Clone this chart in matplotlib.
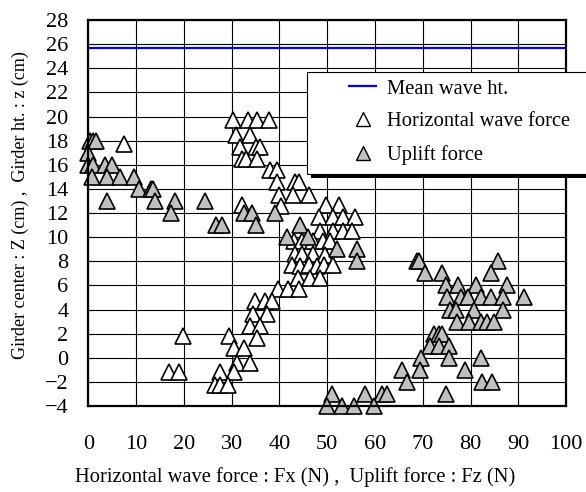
import matplotlib
matplotlib.use("Agg")
import matplotlib.pyplot as plt
from matplotlib.patches import Rectangle
from matplotlib.lines import Line2D

plt.rcParams['font.family'] = ['Liberation Serif', 'DejaVu Serif']

# Horizontal wave force (white triangles): Fx (N), z (cm)
fx_x = [30.2, 33.5, 35.3, 37.9,
        30.8, 33.9,
        31.8, 35.0, 36.0,
        32.2, 33.0, 35.3,
        38.1, 39.5,
        39.5, 43.3, 44.1,
        39.8, 42.9, 46.1,
        32.2, 40.3, 49.8, 52.4,
        48.2, 51.3, 53.4, 55.9,
        48.5, 51.3, 53.4, 55.2,
        43.0, 44.7, 47.1, 49.2, 50.6,
        43.2, 44.7, 47.1, 49.6,
        42.7, 44.3, 46.1, 47.8, 49.4, 51.2,
        43.8, 46.3, 48.5,
        39.6, 41.8, 44.0,
        34.9, 37.0, 38.4,
        34.5, 37.4,
        33.9, 36.0,
        35.3, 29.5, 19.8,
        30.4, 32.5,
        31.1, 33.9,
        27.6, 30.4, 16.8, 18.9,
        26.5, 27.6, 29.3,
        7.5]
fx_z = [19.7, 19.7, 19.7, 19.7,
        18.5, 18.5,
        17.5, 17.5, 17.5,
        16.5, 16.5, 16.5,
        15.6, 15.6,
        14.6, 14.6, 14.6,
        13.5, 13.5, 13.5,
        12.7, 12.6, 12.7, 12.7,
        11.65, 11.65, 11.65, 11.7,
        10.55, 10.55, 10.55, 10.55,
        9.7, 9.7, 9.7, 9.67, 9.67,
        8.6, 8.6, 8.6, 8.5,
        7.65, 7.6, 7.65, 7.6, 7.65, 7.7,
        6.6, 6.6, 6.6,
        5.7, 5.7, 5.7,
        4.7, 4.7, 4.7,
        3.6, 3.6,
        2.65, 2.65,
        1.6, 1.8, 1.8,
        0.8, 0.8,
        -0.4, -0.4,
        -1.2, -1.2, -1.2, -1.2,
        -2.25, -2.25, -2.25,
        17.7]

# Uplift force (grey triangles): Fz (N), z (cm)
fz_x = [0.3, 1.0, 1.5,
        0.0,
        0.0, 1.0, 3.5, 5.0,
        0.7, 3.9, 6.6, 9.6,
        10.5, 13.0, 13.6,
        3.9, 14.0, 18.2, 24.3,
        17.3,
        26.6, 28.0,
        32.5, 34.2, 39.1,
        35.0, 44.3,
        41.5, 46.0,
        52.0, 56.2,
        56.2,
        68.7, 69.3, 85.8,
        70.4, 74.0, 84.2,
        74.8, 77.4, 81.2, 87.6,
        75.0, 78.1, 79.5, 82.1, 84.2, 86.7, 91.3,
        75.7, 76.9, 80.7, 86.7,
        77.1, 79.7, 82.1, 83.4, 84.9,
        72.3, 73.5, 74.1,
        71.6, 73.4, 75.5,
        69.6, 75.5, 82.1,
        65.6, 69.4, 78.8,
        66.7, 82.5, 84.5,
        51.0, 58.0, 61.5, 62.5, 74.8,
        50.0, 53.1, 55.7, 59.8]
fz_z = [18, 18, 18,
        17,
        16, 16, 16, 16,
        15, 15, 15, 15,
        14, 14, 14,
        13, 13, 13, 13,
        12,
        11, 11,
        12, 12, 12,
        11, 11,
        10, 10,
        9, 9,
        8,
        8, 8, 8,
        7, 7, 7,
        6, 6, 6, 6,
        5, 5, 5, 5, 5, 5, 5,
        4, 4, 4, 4,
        3, 3, 3, 3, 3,
        2, 2, 2,
        1, 1, 1,
        0, 0, 0,
        -1, -1, -1,
        -2, -2, -2,
        -3, -3, -3, -3, -3,
        -4, -4, -4, -4]

mean_wave_ht = 25.7

x_ticks = list(range(0, 101, 10))
y_ticks = list(range(-4, 29, 2))

fig = plt.figure(figsize=(5.86, 4.92), dpi=100)
ax = fig.add_axes([0.151, 0.1748, 0.8149, 0.7845])
ax.set_xlim(0, 100)
ax.set_ylim(-4, 28)
ax.set_xticks(x_ticks)
ax.set_yticks(y_ticks)
ax.grid(True, color='black', linewidth=0.8, zorder=0)
ax.set_axisbelow(True)
for s in ax.spines.values():
    s.set_linewidth(1.6)
    s.set_zorder(5)
ax.tick_params(axis='x', direction='in', length=4, width=0.8, pad=21, labelsize=16)
ax.tick_params(axis='y', direction='in', length=4, width=0.8, pad=14.5, labelsize=16)

ax.axhline(mean_wave_ht, color='#0000FF', linewidth=1.6, zorder=3)

ax.plot(fx_x, fx_z, linestyle='none', marker='^', markersize=12,
        markerfacecolor='white', markeredgecolor='black', markeredgewidth=1.2,
        zorder=4, clip_on=False)
ax.plot(fz_x, fz_z, linestyle='none', marker='^', markersize=12,
        markerfacecolor='#C0C0C0', markeredgecolor='black', markeredgewidth=1.2,
        zorder=4, clip_on=False)

ax.set_xlabel('Horizontal wave force : Fx (N) ,  Uplift force : Fz (N)', fontsize=14.8)
ax.set_ylabel('Girder center : Z (cm) ,  Girder ht. : z (cm)', fontsize=13)
ax.xaxis.label.set_va('center')
ax.yaxis.label.set_va('center')
ax.xaxis.set_label_coords(0.432, -0.184)
ax.yaxis.set_label_coords(-0.143, 0.52)

# Legend box with shadow (figure pixel coords -> fractions)
W, H = 586.0, 492.0
def fx_(px):
    return px / W
def fy_(py):
    return 1 - py / H
fig.patches.append(Rectangle((fx_(311), fy_(178)), fx_(300), 102 / H,
                             transform=fig.transFigure, facecolor='black',
                             edgecolor='none', zorder=6))
fig.patches.append(Rectangle((fx_(307), fy_(174)), fx_(300), 102 / H,
                             transform=fig.transFigure, facecolor='white',
                             edgecolor='black', linewidth=0.8, zorder=7))

handles = [
    Line2D([], [], color='#0000FF', linewidth=1.6),
    Line2D([], [], linestyle='none', marker='^', markersize=10,
           markerfacecolor='white', markeredgecolor='black', markeredgewidth=1.0),
    Line2D([], [], linestyle='none', marker='^', markersize=10,
           markerfacecolor='#C0C0C0', markeredgecolor='black', markeredgewidth=1.0),
]
labels = ['Mean wave ht.', 'Horizontal wave force', 'Uplift force']
leg = fig.legend(handles, labels, loc='upper left',
                 bbox_to_anchor=(fx_(345), fy_(75)), frameon=False,
                 fontsize=14.8, handlelength=1.32, handletextpad=0.54,
                 labelspacing=0.66, borderpad=0.2, borderaxespad=0)
leg.set_zorder(8)

fig.savefig('out.png', dpi=100)
